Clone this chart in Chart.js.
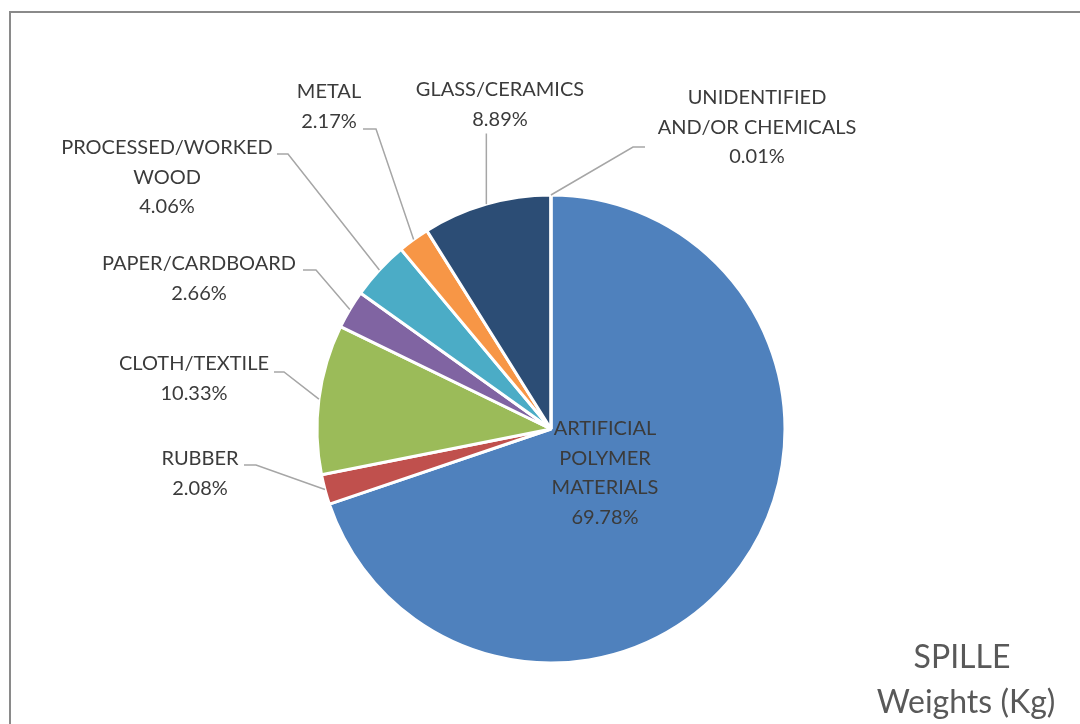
<!DOCTYPE html>
<html>
<head>
<meta charset="utf-8">
<title>SPILLE Weights (Kg)</title>
<script src="https://cdn.jsdelivr.net/npm/chart.js@4.4.1/dist/chart.umd.min.js"></script>
<style>
  html, body { margin: 0; padding: 0; background: #ffffff; overflow: hidden; }
  #wrap { position: relative; width: 1080px; height: 724px; }
  #frame { position: absolute; left: 9px; top: 11px; width: 1200px; height: 900px;
           border: 2px solid #8a8a8a; box-sizing: border-box; }
  #chart { position: absolute; left: 0; top: 0; }
</style>
</head>
<body>
<div id="wrap">
  <div id="frame"></div>
  <canvas id="chart" width="1080" height="724"></canvas>
</div>
<script>
// Material categories (label lines) and their share of the total weight, in %
const categories = [
  ['ARTIFICIAL', 'POLYMER', 'MATERIALS'],
  ['RUBBER'],
  ['CLOTH/TEXTILE'],
  ['PAPER/CARDBOARD'],
  ['PROCESSED/WORKED', 'WOOD'],
  ['METAL'],
  ['GLASS/CERAMICS'],
  ['UNIDENTIFIED', 'AND/OR CHEMICALS']
];
const shares = [69.78, 2.08, 10.33, 2.66, 4.06, 2.17, 8.89, 0.01];
const sliceColors = ['#4F81BD', '#C0504D', '#9BBB59', '#8064A2', '#4BACC6', '#F79646', '#2C4D75', '#772C2A'];
const titleLines = ['SPILLE', 'Weights (Kg)'];

// Where each label block sits (centre x, first line middle y) and the
// horizontal stub of its leader line (start x, end x, y). null = no leader.
const labelPlacement = [
  { x: 605, y: 429, leader: null },
  { x: 200, y: 459, leader: [244, 256, 465] },
  { x: 194, y: 364, leader: [274, 284, 372] },
  { x: 199, y: 264, leader: [303, 316, 270] },
  { x: 167, y: 148, leader: [277, 288, 154] },
  { x: 329, y: 92,  leader: [363, 376, 129] },
  { x: 500, y: 90,  leader: 'vertical' },
  { x: 757, y: 98,  leader: [645, 633, 147] }
];

const LABEL_FONT = '20px Lato, "Open Sans", sans-serif';
const LINE_H = 29.5;

const dataLabels = {
  id: 'dataLabels',
  afterDatasetsDraw(chart) {
    const ctx = chart.ctx;
    const meta = chart.getDatasetMeta(0);
    ctx.save();
    meta.data.forEach((arc, i) => {
      const p = arc.getProps(['x', 'y', 'startAngle', 'endAngle', 'outerRadius']);
      const mid = (p.startAngle + p.endAngle) / 2;
      const ex = p.x + Math.cos(mid) * p.outerRadius;
      const ey = p.y + Math.sin(mid) * p.outerRadius;
      const place = labelPlacement[i];

      // leader line
      if (place.leader) {
        ctx.beginPath();
        ctx.strokeStyle = '#a6a6a6';
        ctx.lineWidth = 1.5;
        if (place.leader === 'vertical') {
          const top = place.y + LINE_H + 14;
          ctx.moveTo(ex, top);
          ctx.lineTo(ex, ey);
        } else {
          const [x1, x2, ly] = place.leader;
          ctx.moveTo(x1, ly);
          ctx.lineTo(x2, ly);
          ctx.lineTo(ex, ey);
        }
        ctx.stroke();
      }

      // label text: category lines followed by the percentage
      const lines = categories[i].concat([shares[i].toFixed(2) + '%']);
      ctx.font = LABEL_FONT;
      ctx.fillStyle = '#3b3b3b';
      ctx.textAlign = 'center';
      ctx.textBaseline = 'middle';
      lines.forEach((t, k) => ctx.fillText(t, place.x, place.y + k * LINE_H));
    });

    // chart title, lower right
    ctx.font = '32px Lato, "Open Sans", sans-serif';
    ctx.fillStyle = '#595959';
    ctx.textAlign = 'center';
    ctx.textBaseline = 'middle';
    ctx.fillText(titleLines[0], 962, 658);
    ctx.fillText(titleLines[1], 966, 703);
    ctx.restore();
  }
};

new Chart(document.getElementById('chart'), {
  type: 'pie',
  data: {
    labels: categories.map(c => c.join(' ')),
    datasets: [{
      data: shares,
      backgroundColor: sliceColors,
      borderColor: '#ffffff',
      borderWidth: 3
    }]
  },
  options: {
    responsive: false,
    animation: false,
    radius: 234,
    layout: { padding: { left: 22, right: 0, top: 134, bottom: 0 } },
    plugins: {
      legend: { display: false },
      tooltip: { enabled: false },
      title: { display: false }
    }
  },
  plugins: [dataLabels]
});
</script>
</body>
</html>
